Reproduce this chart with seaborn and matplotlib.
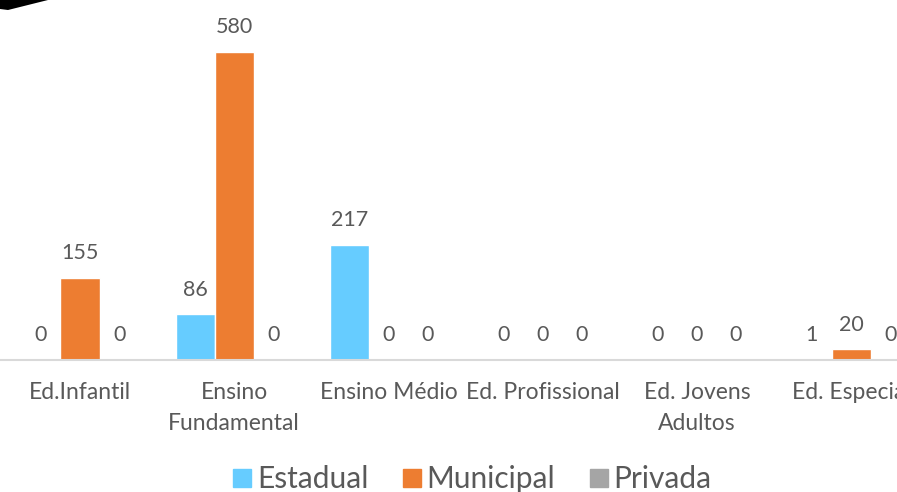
import matplotlib
matplotlib.use("Agg")
import matplotlib.pyplot as plt
import seaborn as sns
import pandas as pd
from matplotlib.lines import Line2D
from matplotlib.patches import Polygon

categories = ["Ed.Infantil", "Ensino\nFundamental", "Ensino Médio",
              "Ed. Profissional", "Ed. Jovens\nAdultos", "Ed. Especial"]
series = ["Estadual", "Municipal", "Privada"]
estadual = [0, 86, 217, 0, 0, 1]
municipal = [155, 580, 0, 0, 0, 20]
privada = [0, 0, 0, 0, 0, 0]
colors = ["#66CCFF", "#ED7D31", "#A5A5A5"]

rows = []
for s, vals in zip(series, [estadual, municipal, privada]):
    for c, v in zip(categories, vals):
        rows.append({"cat": c, "serie": s, "valor": v})
df = pd.DataFrame(rows)

sns.set_theme(style="white")
plt.rcParams["font.family"] = ["Lato", "DejaVu Sans"]
text_color = "#595959"

fig = plt.figure(figsize=(8.97, 4.92), dpi=100)
ax = fig.add_axes([0, 132 / 492, 1, 318.6 / 492])

sns.barplot(data=df, x="cat", y="valor", hue="serie", order=categories,
            hue_order=series, palette=colors, width=0.76, saturation=1,
            ax=ax, legend=False)

for cont in ax.containers:
    ax.bar_label(cont, padding=10.5, fontsize=15.5, color=text_color, clip_on=False)

ax.set_xlim(-0.519, 5.298)
ax.set_ylim(0, 600)
ax.set_xlabel("")
ax.set_ylabel("")
ax.set_yticks([])
for side in ["top", "left", "right"]:
    ax.spines[side].set_visible(False)
ax.spines["bottom"].set_color("#D9D9D9")
ax.spines["bottom"].set_linewidth(1.5)
ax.tick_params(axis="x", length=0, pad=16, labelsize=16.5, labelcolor=text_color)
for lbl in ax.get_xticklabels():
    lbl.set_multialignment("center")
    lbl.set_linespacing(1.55)

handles = [Line2D([0], [0], marker="s", linestyle="none", markersize=13,
                  markerfacecolor=c, markeredgecolor=c) for c in colors]
fig.legend(handles, series, loc="center", bbox_to_anchor=(0.525, 13 / 492),
           ncol=3, frameon=False, fontsize=21.5, handletextpad=0.1,
           handlelength=0.8, columnspacing=1.05, labelcolor=text_color,
           borderaxespad=0)

# black wedge in the top-left corner
fig.patches.append(Polygon([(0, 492), (48, 492), (8, 482), (0, 483)],
                           closed=True, transform=None, facecolor="black",
                           edgecolor="none"))

fig.savefig("out.png", dpi=100)
